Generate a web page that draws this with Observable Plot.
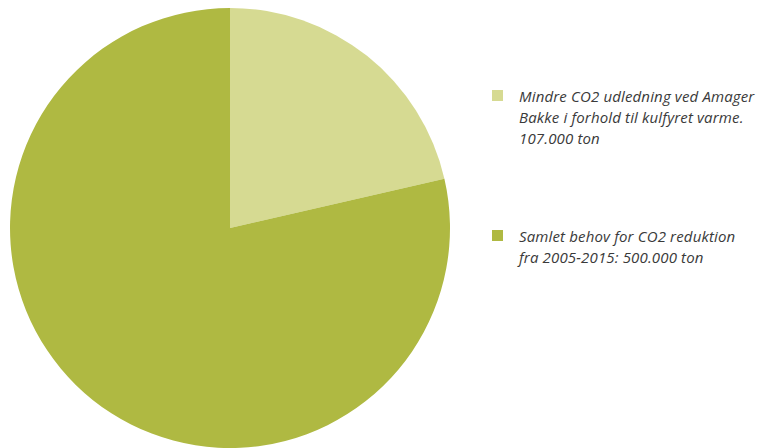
<!DOCTYPE html>
<html>
<head>
<meta charset="utf-8">
<script src="https://cdn.jsdelivr.net/npm/d3@7"></script>
<script src="https://cdn.jsdelivr.net/npm/@observablehq/plot@0.6"></script>
<style>
  html, body { margin: 0; padding: 0; background: #fff; }
  #wrap { position: relative; width: 760px; height: 448px; overflow: hidden; }
  .legend { position: absolute; left: 490px; font-family: "Open Sans", Lato, sans-serif; font-style: italic; font-size: 15px; letter-spacing: 0.15px; color: #3a3a3a; line-height: 21px; white-space: nowrap; }
  .item { position: relative; padding-left: 29px; }
  .sw { position: absolute; left: 2px; top: 4px; width: 11px; height: 11px; }
</style>
</head>
<body>
<div id="wrap"></div>
<script>
const categories = ["Mindre CO2 udledning ved Amager Bakke i forhold til kulfyret varme. 107.000 ton", "Samlet behov for CO2 reduktion fra 2005-2015: 500.000 ton"];
const labelLines = [["Mindre CO2 udledning ved Amager", "Bakke i forhold til kulfyret varme.", "107.000 ton"], ["Samlet behov for CO2 reduktion", "fra 2005-2015: 500.000 ton"]];
const values = [107000, 393000];
const colors = ["#d6da92", "#afb942"];

const data = categories.map((c, i) => ({category: c, value: values[i], color: colors[i]}));
const arcs = d3.pie().sort(null).value(d => d.value)(data);

function pieMark(index, scales) {
  const x = scales.x, y = scales.y;
  const cx = x(0), cy = y(0), r = Math.abs(x(1) - x(0));
  const g = d3.create("svg:g").attr("transform", `translate(${cx},${cy})`);
  const arc = d3.arc().innerRadius(0).outerRadius(r);
  g.selectAll("path").data(arcs).join("path")
    .attr("d", arc)
    .attr("fill", d => d.data.color);
  return g.node();
}

const chart = Plot.plot({
  width: 760,
  height: 448,
  margin: 0,
  x: {domain: [-1, 1], range: [10, 450], axis: null},
  y: {domain: [-1, 1], range: [448, 8], axis: null},
  marks: [pieMark]
});
const wrap = document.getElementById("wrap");
wrap.appendChild(chart);

const tops = [86, 226];
data.forEach((d, i) => {
  const div = document.createElement("div");
  div.className = "legend";
  div.style.top = tops[i] + "px";
  const item = document.createElement("div");
  item.className = "item";
  const sw = document.createElement("span");
  sw.className = "sw";
  sw.style.background = d.color;
  item.appendChild(sw);
  labelLines[i].forEach(t => {
    const l = document.createElement("div");
    l.textContent = t;
    item.appendChild(l);
  });
  div.appendChild(item);
  wrap.appendChild(div);
});
</script>
</body>
</html>
